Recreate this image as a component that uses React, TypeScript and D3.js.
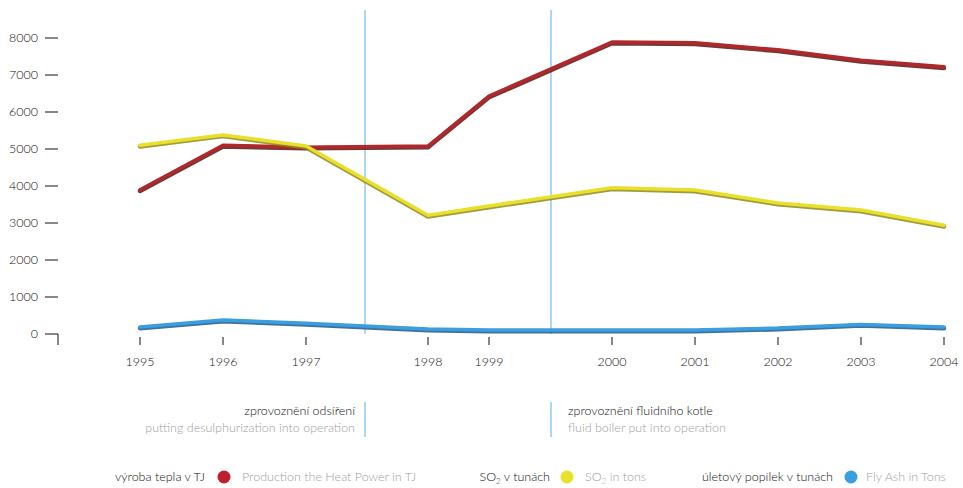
import React from 'react';
import * as d3 from 'd3';

const years = [1995, 1996, 1997, 1998, 1999, 2000, 2001, 2002, 2003, 2004];
const heatPower = [3900, 5100, 5050, 5080, 6430, 7890, 7870, 7680, 7400, 7220];
const so2 = [5100, 5380, 5080, 3210, 3460, 3950, 3890, 3540, 3350, 2940];
const flyAsh = [190, 380, 290, 135, 108, 108, 110, 160, 260, 190];
const yTicks = [0, 1000, 2000, 3000, 4000, 5000, 6000, 7000, 8000];

const events = [
  { at: 1997.5, cz: 'zprovoznění odsíření', en: 'putting desulphurization into operation', side: 'left' },
  { at: 1999.5, cz: 'zprovoznění fluidního kotle', en: 'fluid boiler put into operation', side: 'right' },
];

const series = [
  { name: 'heat', values: heatPower, color: '#b0282c', shade: '#5e1414', cz: 'výroba tepla v TJ', en: 'Production the Heat Power in TJ' },
  { name: 'so2', values: so2, color: '#e9e02c', shade: '#8f8a1a', cz: 'SO2 v tunách', en: 'SO2 in tons' },
  { name: 'ash', values: flyAsh, color: '#3b9ee0', shade: '#1b5a8c', cz: 'úletový popílek v tunách', en: 'Fly Ash in Tons' },
];

const W = 963;
const H = 488;
const FONT = 'Lato, "Open Sans", sans-serif';

// the original time axis is not evenly spaced: wider gaps around the events
const x = d3.scaleLinear()
  .domain([1995, 1997, 1997.5, 1998, 1999, 1999.5, 2000, 2004])
  .range([140, 306, 365, 428, 489, 551, 612, 944]);

const y = d3.scaleLinear().domain([0, 8000]).range([334, 38]);

function withSub(label: string) {
  // render "SO2" with a subscript 2
  const idx = label.indexOf('SO2');
  if (idx < 0) return label;
  return (
    <>
      {label.slice(0, idx)}SO<tspan fontSize="8" dy="3">2</tspan><tspan dy="-3">{label.slice(idx + 3)}</tspan>
    </>
  );
}

export default function App() {
  const line = d3.line<number>()
    .x((_d, i) => x(years[i]))
    .y(d => y(d));

  const legendPos = [
    { czEnd: 205, dot: 224, en: 242 },
    { czEnd: 550, dot: 567, en: 585 },
    { czEnd: 833, dot: 851, en: 866 },
  ];

  return (
    <svg width={W} height={H} style={{ position: 'absolute', left: 0, top: 0, background: '#fff' }} fontFamily={FONT}>
      {/* event lines */}
      {events.map(e => (
        <g key={e.at}>
          <line x1={x(e.at)} x2={x(e.at)} y1={10} y2={y(0)} stroke="#5aaee6" strokeWidth={1} />
          <line x1={x(e.at)} x2={x(e.at)} y1={402} y2={437} stroke="#5aaee6" strokeWidth={1} />
          <text x={e.side === 'left' ? x(e.at) - 10 : x(e.at) + 17} y={415} fontSize={12.5} fontWeight={300}
            textAnchor={e.side === 'left' ? 'end' : 'start'} fill="#111">{e.cz}</text>
          <text x={e.side === 'left' ? x(e.at) - 10 : x(e.at) + 17} y={432} fontSize={12.5} fontWeight={300}
            textAnchor={e.side === 'left' ? 'end' : 'start'} fill="#a0a0a0">{e.en}</text>
        </g>
      ))}

      {/* y axis */}
      {yTicks.map(t => (
        <g key={t}>
          <line x1={45} x2={58} y1={y(t)} y2={y(t)} stroke="#111" strokeWidth={1} />
          <text x={38} y={y(t)} dy="0.35em" textAnchor="end" fontSize={12.5} fontWeight={300} fill="#111">{t}</text>
        </g>
      ))}
      <line x1={58} x2={58} y1={y(0)} y2={y(0) + 11} stroke="#111" strokeWidth={1} />

      {/* x axis */}
      {years.map(yr => (
        <g key={yr}>
          <line x1={x(yr)} x2={x(yr)} y1={337} y2={345} stroke="#111" strokeWidth={1} />
          <text x={x(yr)} y={366} textAnchor="middle" fontSize={12.5} fontWeight={300} fill="#111">{yr}</text>
        </g>
      ))}

      {/* series */}
      {series.map(s => (
        <g key={s.name}>
          <path d={line(s.values) ?? ''} fill="none" stroke={s.shade} strokeWidth={4.5} strokeLinejoin="round" strokeLinecap="round" transform="translate(0,1.2)" opacity={0.85} />
          <path d={line(s.values) ?? ''} fill="none" stroke={s.color} strokeWidth={3.5} strokeLinejoin="round" strokeLinecap="round" />
        </g>
      ))}

      {/* legend */}
      {series.map((s, i) => (
        <g key={s.name + '-legend'}>
          <text x={legendPos[i].czEnd} y={481} textAnchor="end" fontSize={12.5} fontWeight={300} fill="#111">{withSub(s.cz)}</text>
          <circle cx={legendPos[i].dot} cy={477} r={6.5} fill={s.name === 'heat' ? '#c0202c' : s.color} />
          <text x={legendPos[i].en} y={481} fontSize={12.5} fontWeight={300} fill="#a0a0a0">{withSub(s.en)}</text>
        </g>
      ))}
    </svg>
  );
}
